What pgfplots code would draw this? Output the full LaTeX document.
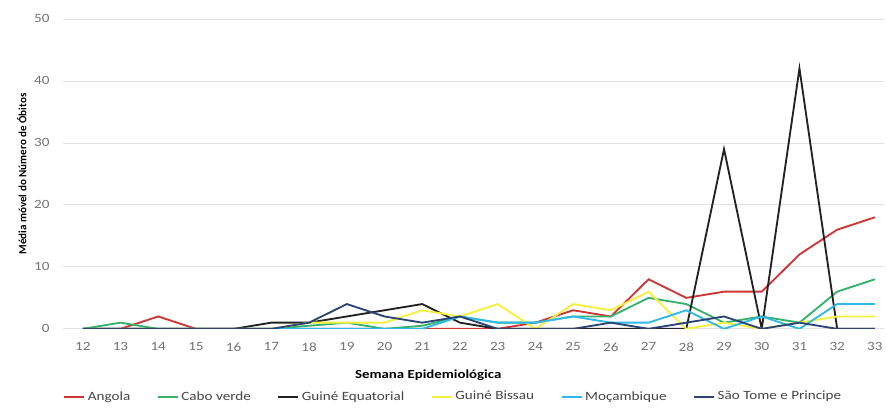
\documentclass[border=0pt]{standalone}
\usepackage{pgfplots}
\pgfplotsset{compat=1.18}
\usepackage{fontspec}
\setmainfont{Carlito}[FakeStretch=1.2]
\newfontfamily\ylabfont{Carlito}
\definecolor{cAng}{RGB}{208,52,52}
\definecolor{cCab}{RGB}{52,178,108}
\definecolor{cGEq}{RGB}{35,35,35}
\definecolor{cGBi}{RGB}{246,240,60}
\definecolor{cMoc}{RGB}{48,184,232}
\definecolor{cSTP}{RGB}{44,68,118}
\definecolor{tickgray}{RGB}{115,115,115}
\definecolor{leggray}{RGB}{70,70,70}
\definecolor{gridgray}{RGB}{225,225,225}

\begin{document}
\begin{tikzpicture}
  \begin{axis}[
    name=ax,
    width=618pt, height=233.25pt,
    scale only axis,
    xmin=11.47, xmax=33.24,
    ymin=0, ymax=50,
    xtick={12,...,33},
    ytick={0,10,...,50},
    ymajorgrids,
    grid style={gridgray, line width=0.6pt},
    axis line style={draw=none},
    major tick length=0pt,
    tick label style={font=\fontsize{9.5}{11}\selectfont, text=tickgray},
    yticklabel style={anchor=east, xshift=-6.5pt},
    xticklabel style={anchor=center, yshift=-13.5pt},
    /pgf/number format/assume math mode=true,
    xlabel={\textbf{Semana Epidemiológica}},
    ylabel={\ylabfont\textbf{Média móvel do Número de Óbitos}},
    xlabel style={font=\fontsize{9.3}{10}\selectfont,
      at={(axis description cs:0.445,-0.1511)}, anchor=center},
    ylabel style={font=\fontsize{8.3}{10}\selectfont,
      at={(axis description cs:-0.0498,0.5)}, anchor=center},
    every axis plot/.append style={line width=1.4pt, mark=none},
    legend style={at={(0.476,-0.2187)}, anchor=center, draw=none,
      font=\fontsize{9.5}{11}\selectfont, text=leggray,
      /tikz/every even column/.append style={column sep=18pt}},
    legend columns=6,
    legend image code/.code={\draw[#1] (0cm,0cm) -- (15pt,0cm);},
  ]
    \addplot[cAng] coordinates {
      (12,0) (13,0) (14,2) (15,0) (16,0) (17,0) (18,0) (19,0) (20,0) (21,0) (22,0)
      (23,0) (24,1) (25,3) (26,2) (27,8) (28,5) (29,6) (30,6) (31,12) (32,16) (33,18)};
    \addplot[cCab] coordinates {
      (12,0) (13,1) (14,0) (15,0) (16,0) (17,0) (18,0.5) (19,1) (20,0) (21,0.5) (22,2)
      (23,1) (24,1) (25,2) (26,2) (27,5) (28,4) (29,1) (30,2) (31,1) (32,6) (33,8)};
    \addplot[cGEq] coordinates {
      (12,0) (13,0) (14,0) (15,0) (16,0) (17,1) (18,1) (19,2) (20,3) (21,4) (22,1)
      (23,0) (24,0) (25,0) (26,0) (27,0) (28,0) (29,29) (30,0) (31,42) (32,0) (33,0)};
    \addplot[cGBi] coordinates {
      (12,0) (13,0) (14,0) (15,0) (16,0) (17,0) (18,1) (19,1) (20,1) (21,3) (22,2)
      (23,4) (24,0) (25,4) (26,3) (27,6) (28,0) (29,1) (30,0) (31,1) (32,2) (33,2)};
    \addplot[cMoc] coordinates {
      (12,0) (13,0) (14,0) (15,0) (16,0) (17,0) (18,0) (19,0) (20,0) (21,0) (22,2)
      (23,1) (24,1) (25,2) (26,1) (27,1) (28,3) (29,0) (30,2) (31,0) (32,4) (33,4)};
    \addplot[cSTP] coordinates {
      (12,0) (13,0) (14,0) (15,0) (16,0) (17,0) (18,1) (19,4) (20,2) (21,1) (22,2)
      (23,0) (24,0) (25,0) (26,1) (27,0) (28,1) (29,2) (30,0) (31,1) (32,0) (33,0)};
    \legend{Angola, Cabo verde, Guiné Equatorial, Guiné Bissau, Moçambique, São Tome e Principe}
  \end{axis}
  \path[use as bounding box] ([xshift=-47.25pt,yshift=-56.25pt]ax.south west)
    rectangle ([yshift=14.25pt]ax.north east);
\end{tikzpicture}
\end{document}
